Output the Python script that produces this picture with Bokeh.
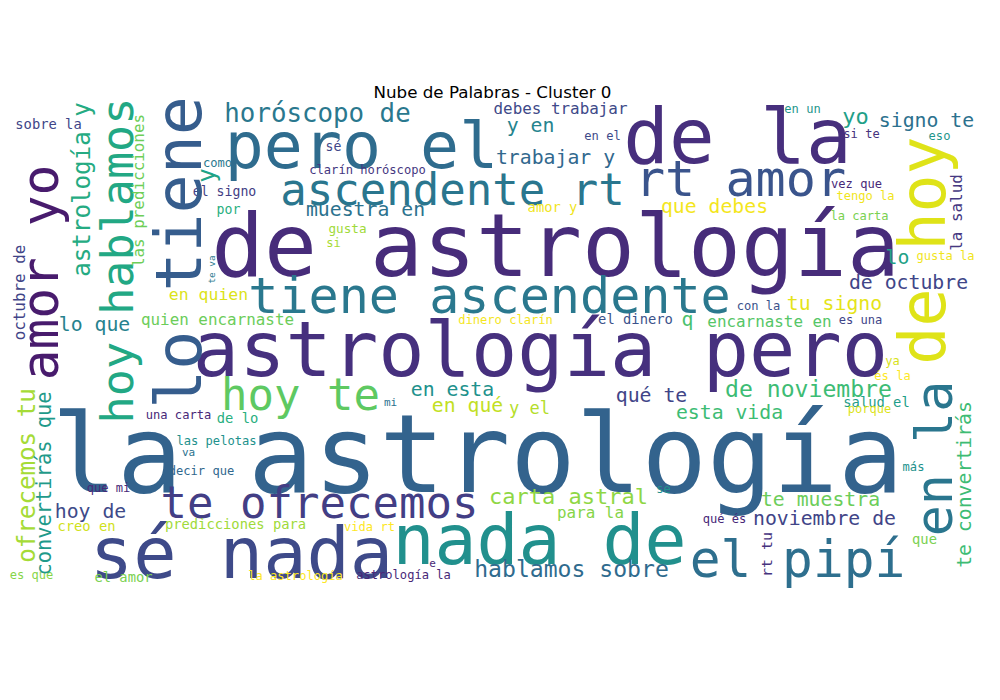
import math

from bokeh.core.properties import value
from bokeh.embed import file_html
from bokeh.models import ColumnDataSource
from bokeh.plotting import figure
from bokeh.resources import INLINE

title = "Nube de Palabras - Cluster 0"

# horizontal words and their relative frequency (1.0 = largest)
h_words = [
    "la astrología", "de astrología", "astrología pero", "pero el", "de la",
    "tiene ascendente", "ascendente rt", "rt amor", "sé nada", "nada de",
    "el pipí", "te ofrecemos", "hoy te", "horóscopo de", "lo que",
    "quien encarnaste", "en quien", "por", "el signo", "como",
    "sobre la", "sé", "clarín horóscopo", "muestra en", "gusta",
    "si", "debes trabajar", "y en", "en el", "trabajar y",
    "amor y", "dinero clarín", "el dinero", "en un", "yo",
    "signo te", "si te", "eso", "vez que", "tengo la",
    "la carta", "que debes", "lo", "gusta la", "de octubre",
    "tu signo", "con la", "q", "encarnaste en", "es una",
    "una carta", "de lo", "las pelotas", "va", "decir que",
    "que mi", "hoy de", "creo en", "predicciones para", "es que",
    "el amor", "la astrología", "en esta", "mi", "en qué",
    "y el", "qué te", "carta astral", "para la", "vida rt",
    "e", "astrología la", "hablamos sobre", "ya", "és la",
    "de noviembre", "salud el", "porque", "esta vida", "más",
    "se", "te muestra", "qué és", "noviembre de", "que",
]
h_freq = [
    0.99, 0.80, 0.70, 0.59, 0.69,
    0.455, 0.40, 0.455, 0.655, 0.635,
    0.465, 0.40, 0.40, 0.235, 0.18,
    0.145, 0.15, 0.12, 0.12, 0.11,
    0.125, 0.12, 0.11, 0.18, 0.115,
    0.11, 0.145, 0.18, 0.11, 0.18,
    0.125, 0.11, 0.125, 0.11, 0.20,
    0.18, 0.11, 0.11, 0.11, 0.11,
    0.11, 0.18, 0.18, 0.11, 0.18,
    0.18, 0.11, 0.18, 0.145, 0.11,
    0.11, 0.125, 0.11, 0.10, 0.11,
    0.11, 0.18, 0.125, 0.125, 0.11,
    0.125, 0.11, 0.18, 0.10, 0.18,
    0.155, 0.18, 0.20, 0.145, 0.11,
    0.10, 0.11, 0.21, 0.11, 0.11,
    0.21, 0.125, 0.11, 0.18, 0.11,
    0.11, 0.18, 0.11, 0.18, 0.125,
]
# layout: centre x and baseline y of each horizontal word
h_x = [
    485, 563, 548, 369, 745,
    497, 460, 748, 249, 547,
    805, 327, 308, 325, 102,
    225, 216, 236, 232, 225,
    56, 341, 375, 373, 355,
    341, 568, 538, 610, 563,
    560, 513, 643, 810, 863,
    934, 869, 947, 864, 873,
    867, 722, 905, 953, 916,
    842, 766, 695, 777, 868,
    186, 245, 224, 196, 209,
    116, 98, 94, 243, 39,
    131, 303, 460, 398, 475,
    537, 659, 576, 598, 377,
    440, 411, 579, 900, 900,
    816, 884, 877, 737, 921,
    671, 828, 732, 832, 932,
]
h_y = [
    491, 277, 378, 171, 165,
    317, 209, 200, 580, 566,
    580, 522, 414, 127, 337,
    331, 306, 221, 203, 174,
    135, 158, 181, 222, 239,
    254, 120, 138, 147, 170,
    218, 331, 330, 120, 130,
    133, 145, 147, 195, 207,
    227, 219, 270, 267, 295,
    316, 317, 332, 333, 331,
    426, 429, 452, 463, 482,
    499, 524, 537, 535, 586,
    588, 587, 402, 413, 418,
    420, 408, 510, 524, 538,
    573, 586, 583, 372, 387,
    403, 413, 420, 425, 478,
    500, 512, 530, 531, 550,
]
h_colors = [
    "#33638d", "#472c7a", "#46307e", "#2f6c8e", "#472f7d",
    "#2a788e", "#2a768e", "#3a548c", "#3e4a89", "#21908d",
    "#2e6f8e", "#433e85", "#5ec962", "#2a788e", "#26828e",
    "#6ccd5a", "#dce319", "#29af7f", "#433e85", "#2a788e",
    "#404588", "#404588", "#453781", "#2c728e", "#a0da39",
    "#a8db34", "#3e4a89", "#25848e", "#3e4a89", "#31688e",
    "#f1e51d", "#f4e61e", "#3b528b", "#1f968b", "#1fa088",
    "#2c718e", "#46337e", "#1f968b", "#482878", "#f1e51d",
    "#7ad151", "#f4e61e", "#1fa187", "#f1e51d", "#404588",
    "#e5e419", "#3b528b", "#4ac16d", "#56c667", "#404588",
    "#482878", "#29af7f", "#21918c", "#2c728e", "#31688e",
    "#482878", "#3e4a89", "#d0e11c", "#a0da39", "#86d549",
    "#7ad151", "#fde725", "#21918c", "#2c728e", "#c2df23",
    "#b5de2b", "#414487", "#8fd744", "#86d549", "#fde725",
    "#482878", "#482878", "#2f6b8e", "#d8e219", "#fde725",
    "#3dbc74", "#1f9e89", "#dce319", "#3dbc74", "#21918c",
    "#21918c", "#6ccd5a", "#482878", "#414487", "#7ad151",
]

# vertical words (read bottom to top)
v_words = [
    "lo tiene", "amor yo", "hoy hablamos", "de hoy", "en la",
    "astrología y", "las predicciones", "octubre de", "ofrecemos tu",
    "convertirás que", "te convertirás", "la salud", "rt tu", "te va", "y",
]
v_freq = [
    0.59, 0.465, 0.41, 0.575, 0.47,
    0.22, 0.145, 0.145, 0.22,
    0.185, 0.18, 0.145, 0.135, 0.085, 0.22,
]
# layout: baseline x and centre y of each vertical word
v_x = [204, 61, 137, 948, 955, 96, 150, 31, 41, 57, 977, 968, 779, 222, 221]
v_y = [260, 280, 268, 258, 466, 197, 198, 300, 483, 491, 492, 220, 562, 277, 183]
v_colors = [
    "#365d8d", "#481b6d", "#22a884", "#dfe318", "#2a768e",
    "#25ab82", "#6ece58", "#414487", "#a5db36",
    "#1f9a8a", "#3dbc74", "#453882", "#46337e", "#2a788e", "#20a386",
]

max_size = 110
shift = 0.27  # bokeh draws the mono font this far (in em) below the given baseline

h_px = [f * max_size for f in h_freq]
v_px = [f * max_size for f in v_freq]

src = ColumnDataSource(data=dict(
    text=h_words + v_words,
    x=h_x + [x - shift * s for x, s in zip(v_x, v_px)],
    y=[y - shift * s for y, s in zip(h_y, h_px)] + v_y,
    size=["%.1fpx" % s for s in h_px + v_px],
    angle=[0.0] * len(h_words) + [math.pi / 2] * len(v_words),
    color=h_colors + v_colors,
))

p = figure(width=984, height=684, x_range=(8, 992), y_range=(692, 8),
           output_backend="svg", toolbar_location=None, min_border=0)
p.axis.visible = False
p.grid.visible = False
p.outline_line_color = None
p.background_fill_color = "white"
p.border_fill_color = "white"

p.text(x="x", y="y", text="text", angle="angle", text_color="color",
       text_font_size="size", text_font=value("DejaVu Sans Mono"),
       text_align="center", text_baseline="alphabetic", source=src)

p.text(x=[500], y=[99], text=[title], text_font=value("DejaVu Sans"),
       text_font_size="16.7px", text_align="center",
       text_baseline="alphabetic", text_color="black")

open("out.html", "w").write(file_html(p, INLINE))
